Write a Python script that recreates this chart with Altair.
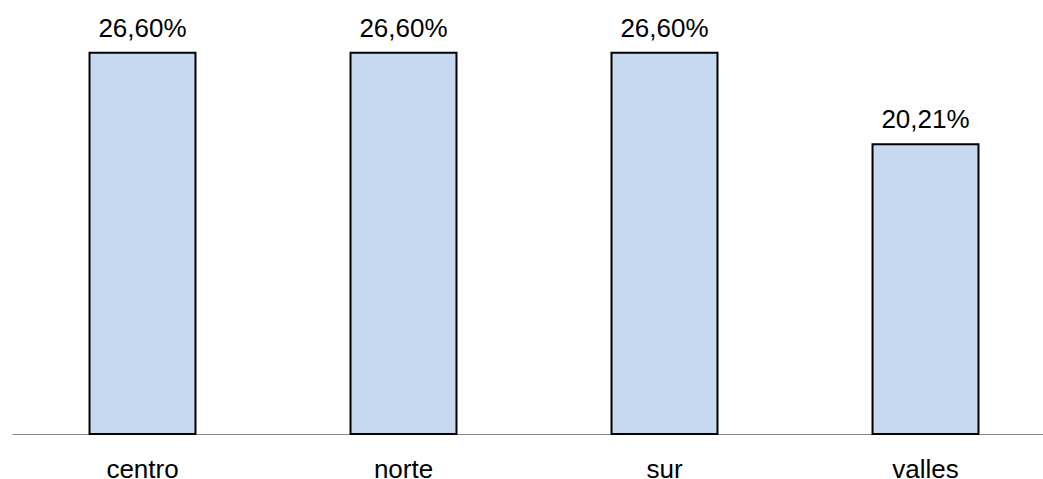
import altair as alt
import pandas as pd

# Share per zone (percent)
zones = ["centro", "norte", "sur", "valles"]
shares = [26.60, 26.60, 26.60, 20.21]
share_labels = ["26,60%", "26,60%", "26,60%", "20,21%"]

df = pd.DataFrame({"zona": zones, "valor": shares, "etiqueta": share_labels})

FONT = "Liberation Sans"

x_enc = alt.X(
    "zona:N",
    sort=zones,
    title=None,
    scale=alt.Scale(range=[0, 1044], paddingInner=0.594, paddingOuter=0.297),
    axis=alt.Axis(
        labelAngle=0,
        labelFont=FONT,
        labelFontSize=26,
        labelColor="#000000",
        labelBaseline="alphabetic",
        labelPadding=43,
        ticks=False,
        tickSize=0,
        domainColor="#868686",
        domainWidth=1,
        grid=False,
    ),
)
y_enc = alt.Y("valor:Q", scale=alt.Scale(domain=[0, 30], nice=False), axis=None)

bars = alt.Chart(df).mark_bar(
    fill="#C6D9F1", stroke="#000000", strokeWidth=2
).encode(x=x_enc, y=y_enc)

labels = alt.Chart(df).mark_text(
    font=FONT, fontSize=26, color="#000000", baseline="alphabetic", dy=-16
).encode(x=alt.X("zona:N", sort=zones), y="valor:Q", text="etiqueta:N")

chart = (
    alt.layer(bars, labels)
    .properties(
        width=1031,
        height=430,
        autosize=alt.AutoSizeParams(type="none"),
        padding={"left": 12, "top": 4, "right": 0, "bottom": 45},
        background="#ffffff",
    )
    .configure_view(stroke=None)
)

chart.save("out.html", embed_options={"renderer": "svg", "actions": False})
